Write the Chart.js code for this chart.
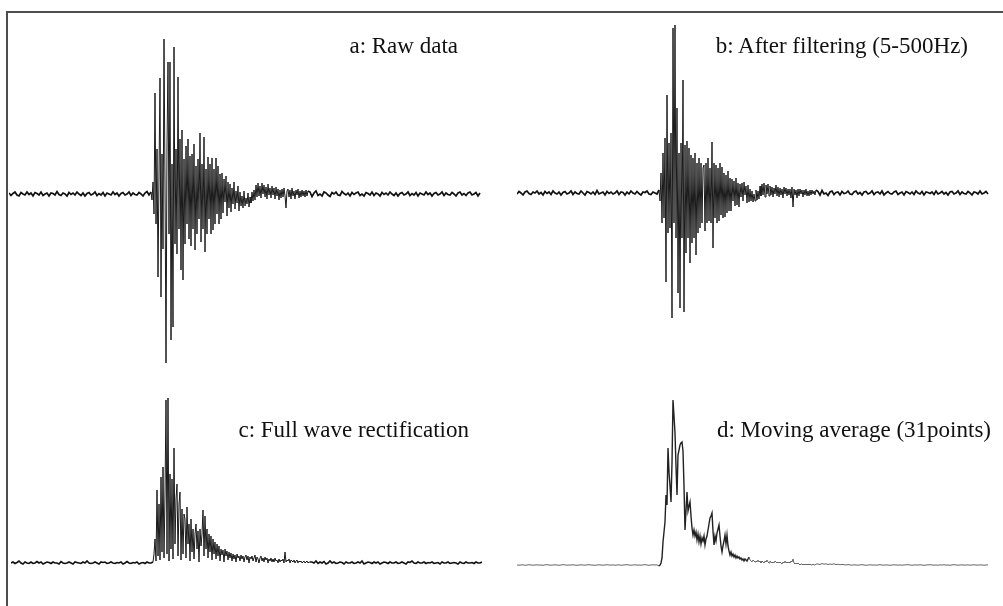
<!DOCTYPE html>
<html>
<head>
<meta charset="utf-8">
<script src="https://cdn.jsdelivr.net/npm/chart.js@4.4.0/dist/chart.umd.min.js"></script>
<style>
  body { margin: 0; background: #fff; }
  #fig { position: relative; width: 1003px; height: 606px; overflow: hidden; background: #fff; }
  #frame { position: absolute; left: 6px; top: 11px; right: -10px; bottom: -10px;
           border-top: 2px solid #4d4d4d; border-left: 2px solid #4d4d4d; }
  canvas { position: absolute; }
  .lbl { position: absolute; font-family: "Liberation Serif", "Times New Roman", serif;
         font-size: 23px; line-height: 23px; color: #111; white-space: nowrap; }
</style>
</head>
<body>
<div id="fig">
  <div id="frame"></div>
  <canvas id="panelA" width="472" height="350" style="left:9px;top:19px"></canvas>
  <canvas id="panelB" width="473" height="350" style="left:517px;top:18px"></canvas>
  <canvas id="panelC" width="471" height="200" style="left:11px;top:384px"></canvas>
  <canvas id="panelD" width="473" height="200" style="left:517px;top:386px"></canvas>
  <div class="lbl" style="right:545px;top:34px">a: Raw data</div>
  <div class="lbl" style="right:35px;top:34px">b: After filtering (5-500Hz)</div>
  <div class="lbl" style="right:534px;top:418px">c: Full wave rectification</div>
  <div class="lbl" style="right:12px;top:418px">d: Moving average (31points)</div>
</div>
<script>
// quiet parts sampled every 2 units, the burst every unit
const coarseStep = 2;
const burstStart = 142;

// a: raw data
const rawPre = [1,-1.5,0.5,2,-1,-2,1.5,0,-1,2, -0.5,1,-2,1.5,0.5,-1,2,-1.5,0,1,
  -2,1,0.5,-1,2.5,-0.5,-1.5,1,0,-2, 1.5,-0.5,1,-1,2,0,-1.5,1,-2,0.5,
  1.5,-1,0,2,-1.5,0.5,-1,1.5,-2,1, 0,-1,2,-0.5,1,-2,0.5,1.5,-1,0,
  2,-1.5,1,-0.5,-1,1.5,0,-2,1,2.5, -1];
const rawBurst = [2,-6,12,-20,101,-30,45,-83,20,116,
  -103,40,-55,155,10,-169,50,132,-40,132,
  -146,30,-133,147,-50,45,-60,117,-35,55,
  -76,64,-86,35,-50,48,-30,55,-45,38,
  -52,40,-35,50,-56,28,-40,35,-25,61,
  -48,30,-35,57,-58,25,-40,37,-25,30,
  -40,36,-36,25,-30,36,-20,28,-30,20,
  -25,21,-19,15,-8,18,-22,12,-14,10,
  -18,6,-10,12,-15,3,-9,8,-17,2,
  -12,-2,-14,3,-12,-4,-10,1,-13,-3,
  -9,2,-7,4,-6,9,-3,11,-2,8,
  -4,11,0,9,-3,7,-5,10,-1,6,
  -4,8,-1,6,-5,7,-2,5,-6,4,
  -4,5,-3,6,-2,-14,3,5,-3,4,
  -5,6,-2,3,-5,4,-1,5,-4,3,
  -3,4,-2,3,-3,4,-2,3];
const rawPost = [2,-2.5,1,3,-1.5,0,-2,2,1,-1, -2.5,1.5,0,2,-1,-1.5,2.5,0.5,-1,1,
  -2,1.5,-0.5,1,2,-1.5,0,-2,1.5,0.5, -1,2,-1.5,1,0,-2,1.5,-0.5,1,-1,
  2,0,-1.5,1,-2,0.5,1.5,-1,0,2, -1.5,0.5,-1,1.5,-2,1,0,-1,2,-0.5,
  1,-2,0.5,1.5,-1,0,2,-1.5,1,-0.5, -1,1.5,0,-2,1,2,-1,0.5,-1.5,1,
  2,-1,0,1.5,-2,1];

// b: filtered
const filtPre = [-1,1.5,0,-2,1,2,-0.5,-1.5,1,0, 2,-1,0.5,-2,1.5,-0.5,1,-1.5,2,0,
  -1,1,-2,0.5,1.5,-1,0,2,-1.5,1, -0.5,-1,2,0,-2,1.5,0.5,-1,1,-1.5,
  2.5,-1,0,1,-2,1.5,-0.5,1,-1,0, 2,-1.5,1,0.5,-2,1,-1,2,0,-1,
  1.5,-0.5,-2,1,0.5,2,-1,-1.5,1,0, -1];
const filtBurst = [3,-8,20,-30,40,-25,55,-89,98,-40,
  50,-35,60,-125,165,-30,168,-45,85,-100,
  40,-115,50,-45,113,-119,48,-60,52,-45,
  45,-70,38,-50,35,-45,40,-62,30,-40,
  35,-35,30,-30,25,28,-38,30,-30,35,
  -28,25,-30,51,-55,30,-25,28,-30,25,
  -28,30,-22,26,-25,20,-24,18,-20,22,
  -18,15,-18,14,-8,12,-13,15,-12,10,
  -14,9,-4,10,-8,11,-2,7,-10,8,
  -9,4,-8,2,-9,-1,-8,3,-7,2,
  -6,7,-3,9,-2,10,-4,8,-1,9,
  -3,7,-2,6,-4,5,-1,8,-3,6,
  -4,5,-2,4,-5,6,-1,5,-3,4,
  -2,4,-5,6,-14,4,-2,3,-5,4,
  -3,4,-1,3,-4,3,-2,4,-3,2,
  -3,3,-2,3,-1,2,-2,3];
const filtPost = [1.5,-2,2.5,-1,0,-2.5,1,2,-1.5,0.5, 1,-2,1.5,-0.5,0,2,-1,-1.5,1,2,
  -1,0.5,-2,1,1.5,-1,0,2,-1.5,0.5, 1,-1,2,-2,0,1.5,-0.5,-1,1,2,
  -1.5,0,1,-2,1.5,0.5,-1,1,-1.5,2, 0,-1,1.5,-2,1,0.5,-0.5,1,-1.5,2,
  -1,0,1.5,-1,0.5,-2,1,1.5,-1,0, 2,-1.5,1,-0.5,-1,1.5,0,-2,1,0.5,
  -1,2,-1,0,1.5,-1];

// c: full wave rectification
const rectPre = [1,2,0.5,1.5,3,1,0,2,1,0.5, 2,0.5,1,2.5,1,2,0,1,2,1.5,
  0.5,2,1,1,0,2.5,1,0.5,1,2, 1,0,2,1.5,1,0.5,2,1,3,1,
  0.5,1,2,1,0,2,1.5,2,0.5,1, 2,1,0.5,1.5,1,2,0,1,2.5,1,
  0.5,1.5,1,2,0,1,1.5,0.5,2,1, 1];
const rectBurst = [2,10,25,3,74,8,60,4,87,12,
  97,6,70,164,10,166,3,90,15,85,
  5,116,20,65,80,8,60,72,4,55,
  10,50,45,6,57,20,40,3,45,12,
  35,5,30,40,15,33,2,35,18,30,
  54,8,48,15,35,6,30,12,28,4,
  25,10,22,5,20,8,18,3,15,9,
  14,2,15,8,13,4,12,6,11,3,
  10,5,9,2,10,6,8,3,9,5,
  8,2,7,9,4,8,1,7,5,8,
  3,6,9,2,7,5,1,6,8,3,
  6,2,7,4,6,1,5,3,6,2,
  5,2,6,3,4,1,5,2,4,3,
  5,1,12,2,4,3,5,1,4,3,
  2,4,1,3,4,1,3,2,3,1,
  2,3,1,2,3,1,2,2];
const rectPost = [2,1,3,0.5,2,1,2.5,0,1,3, 1,2,0.5,1,2,1.5,0,2,1,1,
  2,0.5,1,2,1,3,0,1,2,1.5, 0.5,2,1,2,0,1,2,1.5,0.5,2,
  1,1,2,0.5,1,2,1,0,2,1.5, 3,1,0.5,2,1,1,2,0.5,1.5,1,
  2,0.5,1,1.5,0,2,1,1,2,0.5, 1,1.5,1,0,2,1,0.5,2,1,1,
  1.5,0.5,2,1,1,2];

// d: moving average (31 points)
const avgPre = [1,0.8,1,1.2,0.7,1,1.3,1,0.8,1, 1.2,0.9,1,0.7,1.1,1.3,1,0.8,1,1.2,
  1,0.7,1,1.3,1.1,0.8,1,1,1.2,0.9, 0.7,1,1.2,1,0.8,1.1,1.3,1,0.9,0.7,
  1,1.2,1,0.8,1,1.3,1,0.9,1.1,0.8, 1,1.2,0.7,1,1.1,1.3,1,0.8,1,1.2,
  0.9,1,0.8,1.1,1.3,1,0.7,1,1.2,1, 1.1];
const avgBurst = [0,1,3,8,24,34,44,71,61,118,
  94,80,64,103,166,150,133,100,71,111,
  116,121,123,124,115,80,36,55,74,55,
  60,64,50,38,31,36,30,34,26,32,
  24,30,22,28,25,30,21,27,30,36,
  42,48,50,53,35,21,30,25,33,37,
  41,30,20,14,20,25,31,22,31,20,
  15,11,14,10,12,9,11,8,10,8,
  9,7,8,6,7,5,7,6,5,7,
  9,6,5,4,6,5,4,5,4,6,
  4,5,3,5,4,3,5,4,6,4,
  3,5,4,3,4,3,5,4,3,4,
  3,4,3,2,4,3,5,3,4,3,
  4,3,5,4,7,3,2,3,2,3,
  2,1,2,2,1,2,1,2,1,2,
  1,2,1,1,2,1,1,2];
const avgPost = [2,1.5,2.5,1.8,2.2,1.5,2,1.6,2.3,1.4, 1.8,1.2,1.6,1.3,1,1.4,1.1,0.8,1.2,1,
  0.8,1.1,1.3,1,0.7,1,1.2,0.9,1.1,0.8, 1,1.3,1,0.8,1.1,1,0.7,1,1.2,1,
  0.9,1.1,0.8,1,1.2,1.3,1,0.8,1,1.1, 0.9,1.2,1,0.7,1,1.1,1.3,1,0.9,1,
  0.8,1.1,1,1.2,0.9,1,0.7,1.1,1.3,1, 0.8,1,1.2,0.9,1,1.1,0.8,1,1.2,1,
  0.9,1.1,1,0.8,1,1.1];

function toPoints(pre, burst, post) {
  const pts = [];
  pre.forEach((v, i) => pts.push({x: i * coarseStep, y: v}));
  burst.forEach((v, i) => pts.push({x: burstStart + i, y: v}));
  const postStart = burstStart + burst.length - 1 + coarseStep;
  post.forEach((v, i) => pts.push({x: postStart + i * coarseStep, y: v}));
  return pts;
}

// style: [quiet color, quiet width, burst color, burst width]
function drawPanel(id, points, yMin, yMax, style, xMax, burstLen) {
  const inBurst = ctx => ctx.p0.parsed.x >= burstStart - 1 && ctx.p1.parsed.x <= burstStart + burstLen;
  new Chart(document.getElementById(id), {
    type: 'line',
    data: {
      datasets: [{
        data: points,
        borderColor: style[0],
        borderWidth: style[1],
        pointRadius: 0,
        tension: 0,
        fill: false,
        segment: {
          borderColor: ctx => inBurst(ctx) ? style[2] : style[0],
          borderWidth: ctx => inBurst(ctx) ? style[3] : style[1]
        }
      }]
    },
    options: {
      responsive: false,
      animation: false,
      devicePixelRatio: 1,
      layout: { padding: 0 },
      plugins: { legend: { display: false }, tooltip: { enabled: false } },
      scales: {
        x: { type: 'linear', min: 0, max: xMax, display: false },
        y: { min: yMin, max: yMax, display: false }
      }
    }
  });
}

drawPanel('panelA', toPoints(rawPre, rawBurst, rawPost), -175, 175, ['#111', 1.7, '#1a1a1a', 1], 472, rawBurst.length);
drawPanel('panelB', toPoints(filtPre, filtBurst, filtPost), -175, 175, ['#111', 1.7, '#1a1a1a', 1], 473, filtBurst.length);
drawPanel('panelC', toPoints(rectPre, rectBurst, rectPost), -20, 180, ['#111', 1.6, '#1a1a1a', 1], 471, rectBurst.length);
drawPanel('panelD', toPoints(avgPre, avgBurst, avgPost), -20, 180, ['#666', 1, '#222', 1.4], 473, 90);
</script>
</body>
</html>
